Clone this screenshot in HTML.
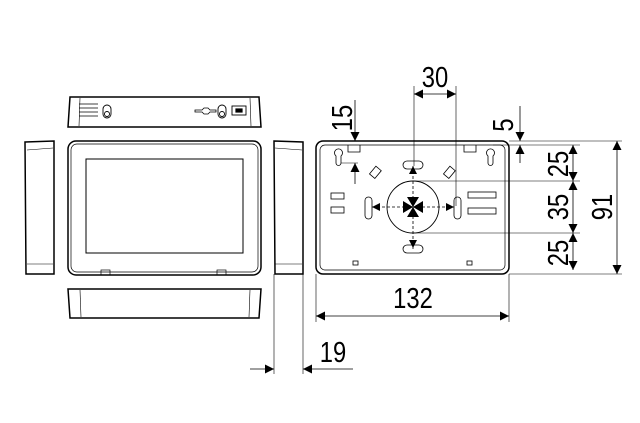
<!DOCTYPE html>
<html><head><style>html,body{margin:0;padding:0;background:#fff}svg{display:block}</style></head>
<body>
<svg width="640" height="423" viewBox="0 0 640 423" xmlns="http://www.w3.org/2000/svg" font-family="Liberation Sans, sans-serif">
<defs>
<marker id="a" viewBox="0 0 10 10" refX="10" refY="5" markerWidth="11" markerHeight="9" orient="auto-start-reverse" markerUnits="userSpaceOnUse"><path d="M0,0L10,5L0,10z" fill="#000"/></marker>
</defs>
<g fill="none" stroke="#000" stroke-width="1.2">
<path d="M70,97 L259,97 L261,127 L68,127 Z" stroke-width="1.5"/>
<line x1="80" y1="98" x2="79" y2="126" stroke-width="0.6"/><line x1="250" y1="98" x2="251" y2="126" stroke-width="0.6"/>
<g stroke-width="0.8"><line x1="79" y1="104" x2="98" y2="104"/><line x1="79" y1="108" x2="98" y2="108"/><line x1="79" y1="112" x2="98" y2="112"/><line x1="79" y1="116" x2="98" y2="116"/></g>
<rect x="103" y="105" width="8" height="13" rx="4" stroke-width="0.9"/><circle cx="107" cy="114" r="2.5" stroke-width="0.9"/>
<rect x="218" y="105" width="8" height="13" rx="4" stroke-width="0.9"/><circle cx="222" cy="114" r="2.5" stroke-width="0.9"/>
<path d="M195,110 h7 l2,-2 h4 l2,2 h6 v2 h-6 l-2,2 h-4 l-2,-2 h-7z" stroke-width="0.8"/>
<rect x="232" y="106" width="14" height="9" stroke-width="0.9"/><rect x="236" y="109" width="6" height="3" fill="#000"/>
<rect x="68" y="141" width="193" height="134" rx="8" stroke-width="1.5"/>
<rect x="71" y="144" width="187" height="128" rx="6" stroke-width="0.7"/>
<rect x="86" y="159" width="157" height="94" stroke-width="1"/>
<rect x="101" y="270" width="9" height="5" stroke-width="0.7"/><rect x="217" y="270" width="9" height="5" stroke-width="0.7"/>
<path d="M25,142 L54,141 L54,274 L26,274 Z" stroke-width="1.5"/>
<line x1="27" y1="150" x2="53" y2="148" stroke-width="0.6"/><line x1="27" y1="264" x2="53" y2="264" stroke-width="0.6"/>
<path d="M274,141 L303,142 L303,274 L275,274 Z" stroke-width="1.5"/>
<line x1="275" y1="148" x2="302" y2="150" stroke-width="0.6"/><line x1="275" y1="264" x2="302" y2="264" stroke-width="0.6"/>
<path d="M68,289 L261,289 L259,318 L70,318 Z" stroke-width="1.5"/>
<line x1="80" y1="290" x2="81" y2="317" stroke-width="0.6"/><line x1="250" y1="290" x2="249" y2="317" stroke-width="0.6"/>
<rect x="316" y="141" width="193" height="133" rx="7" stroke-width="1.5"/>
<rect x="320" y="145" width="185" height="125" rx="5" stroke-width="0.7"/>
<path d="M348,145 v7 h12 v-7 M464,145 v7 h12 v-7" stroke-width="0.8"/>
<circle cx="413" cy="207" r="26" stroke-width="0.9"/>
<g stroke-width="0.8">
<path d="M336,156 a4,4 0 1,1 5,0 l0,7 a2.5,2.5 0 0,1 -5,0z"/>
<path d="M488,156 a4,4 0 1,1 5,0 l0,7 a2.5,2.5 0 0,1 -5,0z"/>
<rect x="403" y="161" width="20" height="8" rx="4"/>
<rect x="403" y="245" width="20" height="8" rx="4"/>
<rect x="365" y="197" width="7" height="22" rx="3.5"/>
<rect x="454" y="197" width="7" height="22" rx="3.5"/>
<rect x="372" y="167" width="7" height="10" transform="rotate(40 375 172)"/>
<rect x="446" y="167" width="7" height="10" transform="rotate(40 449 172)"/>
<rect x="331" y="193" width="13" height="6"/><rect x="331" y="207" width="13" height="6"/>
<rect x="468" y="192" width="28" height="6"/><rect x="468" y="208" width="28" height="6"/>
<rect x="353" y="261" width="5" height="4"/><rect x="467" y="261" width="5" height="4"/>
</g>
<g stroke-width="0.8" stroke-dasharray="3,2">
<line x1="372" y1="207" x2="454" y2="207"/><line x1="413" y1="166" x2="413" y2="250"/>
</g>
<g stroke-width="0.6">
<line x1="414" y1="86" x2="414" y2="166"/><line x1="456" y1="86" x2="456" y2="206"/>
<line x1="509" y1="141" x2="622" y2="141"/><line x1="493" y1="145" x2="580" y2="145"/>
<line x1="413" y1="181" x2="580" y2="181"/><line x1="413" y1="233" x2="580" y2="233"/>
<line x1="509" y1="274" x2="622" y2="274"/>
<line x1="316" y1="274" x2="316" y2="322"/><line x1="509" y1="274" x2="509" y2="322"/>
<line x1="274" y1="274" x2="274" y2="374"/><line x1="303" y1="274" x2="303" y2="374"/>
<line x1="341" y1="163" x2="358" y2="163"/>
</g>
<g stroke-width="0.8">
<line x1="414" y1="94" x2="456" y2="94" marker-start="url(#a)" marker-end="url(#a)"/>
<line x1="355" y1="100" x2="355" y2="141" marker-end="url(#a)"/>
<line x1="355" y1="184" x2="355" y2="163" marker-end="url(#a)"/>
<line x1="520" y1="106" x2="520" y2="141" marker-end="url(#a)"/>
<line x1="520" y1="163" x2="520" y2="145" marker-end="url(#a)"/>
<line x1="573" y1="145" x2="573" y2="181" marker-start="url(#a)" marker-end="url(#a)"/>
<line x1="573" y1="181" x2="573" y2="233" marker-start="url(#a)" marker-end="url(#a)"/>
<line x1="573" y1="233" x2="573" y2="270" marker-start="url(#a)" marker-end="url(#a)"/>
<line x1="617" y1="141" x2="617" y2="274" marker-start="url(#a)" marker-end="url(#a)"/>
<line x1="316" y1="316" x2="509" y2="316" marker-start="url(#a)" marker-end="url(#a)"/>
<line x1="250" y1="369" x2="274" y2="369" marker-end="url(#a)"/>
<line x1="353" y1="369" x2="303" y2="369" marker-end="url(#a)"/>
</g>
</g>
<g fill="#000">
<path d="M413,207 l-10,-6 v12z M413,207 l10,-6 v12z M413,207 l-6,-10 h12z M413,207 l-6,10 h12z"/>
<path d="M372,207 l8,-4 v8z M454,207 l-8,-4 v8z M413,166 l-4,8 h8z M413,248 l-4,-8 h8z"/>
</g>
<g font-size="29" fill="#000" text-anchor="middle">
<text transform="translate(435,87) scale(0.82,1)">30</text>
<text transform="translate(413,308) scale(0.82,1)">132</text>
<text transform="translate(333,362) scale(0.82,1)">19</text>
<text transform="translate(352,118) rotate(-90) scale(0.82,1)">15</text>
<text transform="translate(513,125) rotate(-90) scale(0.82,1)">5</text>
<text transform="translate(568,164) rotate(-90) scale(0.82,1)">25</text>
<text transform="translate(568,207) rotate(-90) scale(0.82,1)">35</text>
<text transform="translate(568,253) rotate(-90) scale(0.82,1)">25</text>
<text transform="translate(612,207) rotate(-90) scale(0.82,1)">91</text>
</g>
</svg>
</body></html>
